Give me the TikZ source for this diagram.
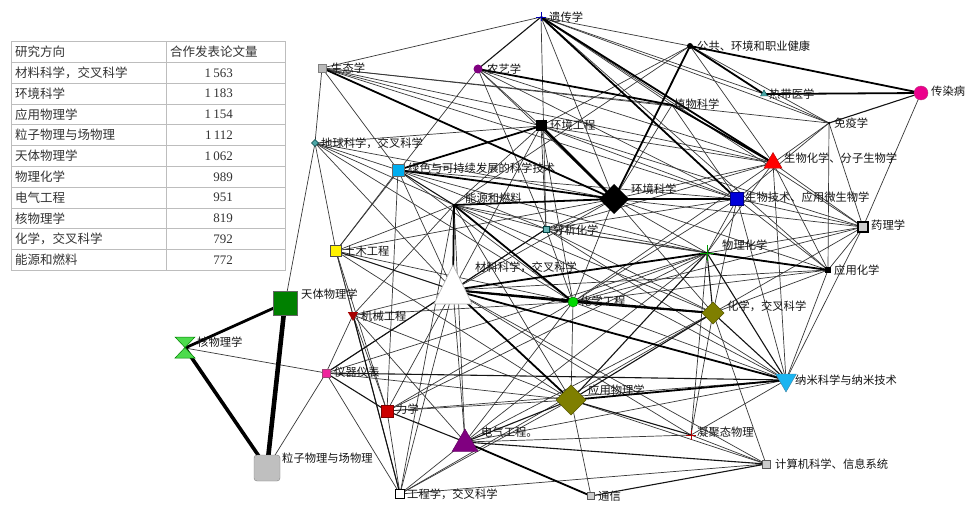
\documentclass[tikz,border=0pt]{standalone}
\usepackage{fontspec}
\setmainfont{Noto Sans CJK SC}
\newfontfamily\numfont{Liberation Serif}
\usetikzlibrary{shapes.geometric}
\definecolor{olivec}{HTML}{7F7F00}
\definecolor{purplec}{HTML}{800080}
\definecolor{tablegray}{HTML}{BDBDBD}
\begin{document}
\begin{tikzpicture}[x=1pt,y=-1pt,
  e0/.style={line width=0.7pt, draw=black!78},
  e1/.style={line width=1.1pt, draw=black!92},
  e2/.style={line width=1.8pt, draw=black},
  e3/.style={line width=2.8pt, draw=black},
  e4/.style={line width=4.6pt, draw=black},
  lbl/.style={anchor=west, inner sep=0pt, text=black!92, font=\fontsize{11.3}{12}\selectfont},
  tcell/.style={anchor=west, inner sep=0pt, text=black!80, font=\fontsize{12.5}{13}\selectfont},
  tnum/.style={anchor=east, inner sep=0pt, text=black!80, font=\numfont\fontsize{13}{14}\selectfont},
  mk/.style={inner sep=0pt, outer sep=0pt},
  sqm/.style={mk, rectangle, minimum size=#1},
  circm/.style={mk, circle, minimum size=#1},
  diam/.style={mk, diamond, minimum width=#1, minimum height=#1},
  trim/.style={mk, regular polygon, regular polygon sides=3, minimum size=#1},
  itrim/.style={mk, regular polygon, regular polygon sides=3, shape border rotate=180, minimum size=#1}]
\useasboundingbox (0,0) rectangle (967,505);
\fill[white] (0,0) rectangle (967,505);

% ---------- table ----------
\draw[tablegray, line width=0.9pt] (11,41.7) rectangle (285,270.7);
\draw[tablegray, line width=0.9pt] (166,41.7) -- (166,270.7);
\foreach \yy in {62.5,83.3,104.1,124.9,145.7,166.5,187.3,208.1,228.9,249.7}
  \draw[tablegray, line width=0.9pt] (11,\yy) -- (285,\yy);
\node[tcell] (th1) at (15,52) {研究方向};
\node[tcell] (th2) at (170,52) {合作发表论文量};
\foreach \i/\t/\n in {1/{材料科学，交叉科学}/{1\,563},2/环境科学/{1\,183},3/应用物理学/{1\,154},
  4/粒子物理与场物理/{1\,112},5/天体物理学/{1\,062},6/物理化学/989,7/电气工程/951,
  8/核物理学/819,9/{化学，交叉科学}/792,10/能源和燃料/772}{
  \node[tcell] (tr\i a) at (15,{52+20.8*\i}) {\t};
  \node[tnum] (tr\i b) at (233,{52+20.8*\i}) {\n};
}

% ---------- node centres ----------
\coordinate (gen) at (541,17);
\coordinate (pub) at (690,46);
\coordinate (eco) at (322,68);
\coordinate (agr) at (478,69);
\coordinate (tro) at (764,94);
\coordinate (inf) at (921,93);
\coordinate (pla) at (672,105);
\coordinate (imm) at (829,123);
\coordinate (enE) at (541,126);
\coordinate (geo) at (315,143);
\coordinate (bio) at (773,163);
\coordinate (grn) at (398,170);
\coordinate (env) at (614,199);
\coordinate (btk) at (737,199);
\coordinate (ene) at (454,205);
\coordinate (pha) at (863,227);
\coordinate (ana) at (546,229);
\coordinate (civ) at (336,251);
\coordinate (phc) at (707,253);
\coordinate (apc) at (828,270);
\coordinate (mat) at (453,290);
\coordinate (ast) at (285,303);
\coordinate (che) at (573,302);
\coordinate (chx) at (713,313);
\coordinate (mec) at (353,315);
\coordinate (nuc) at (185,348);
\coordinate (ins) at (326,373);
\coordinate (nan) at (786,380);
\coordinate (app) at (571,400);
\coordinate (mch) at (387,411);
\coordinate (cnd) at (691,435);
\coordinate (ele) at (465,442);
\coordinate (par) at (267,468);
\coordinate (com) at (766,464);
\coordinate (eng) at (400,494);
\coordinate (tel) at (591,496);

% ---------- connectors ----------
\foreach \a/\b in {gen/eco, gen/ana, gen/env, gen/pha, gen/imm, gen/pub, gen/tro, gen/pla, gen/apc,
  pub/imm, pub/bio, pub/enE, pub/ene,
  agr/civ, agr/bio, agr/btk, agr/env, agr/ana, agr/enE,
  eco/geo, eco/bio, eco/btk, eco/enE, eco/grn, eco/pla, eco/imm,
  tro/imm, inf/pha, pla/btk, pla/env,
  imm/bio, imm/apc, imm/pha, imm/btk,
  enE/ene, enE/ana, enE/mat, enE/che, enE/btk, enE/pha, enE/bio, geo/enE,
  geo/ast, geo/grn, geo/env, geo/civ, geo/ene, geo/mat, geo/che,
  bio/phc, bio/pha, bio/apc, bio/ana, bio/che, bio/env, bio/nan,
  grn/mat, grn/civ, grn/ana, grn/che, grn/btk, grn/mch, grn/phc,
  env/phc, env/che, env/ana, env/mat, env/apc, env/pha, env/chx, env/civ,
  btk/pha, btk/phc, btk/apc, btk/che, btk/ana, btk/chx, btk/nan,
  ene/ana, ene/phc, ene/chx, ene/app, ene/ele, ene/mec, ene/civ, ene/eng, ene/nan,
  pha/apc, pha/nan, pha/chx, pha/phc, pha/che,
  ana/mat, ana/che, ana/phc, ana/chx, ana/apc, ana/nan,
  civ/mec, civ/mch, civ/eng, civ/che, civ/app,
  phc/che, phc/ele, phc/mch, phc/cnd, phc/ins,
  apc/chx, apc/nan, apc/mat, apc/che,
  mat/ele, mat/mch, mat/mec, mat/eng, mat/cnd, mat/ins, mat/com,
  che/app, che/nan, che/mch, che/ele,
  chx/ele, chx/cnd, chx/com, nan/cnd, nan/ele,
  app/tel, app/mch, app/ins, app/com, app/eng,
  ele/cnd, ele/eng, ele/mec,
  mec/ins, mec/mch, mec/app, mec/che,
  ins/nuc, ins/par, ins/eng,
  mch/eng, mch/nan, com/cnd, com/eng, eng/chx}
  \draw[e0] (\a) -- (\b);
\foreach \a/\b in {gen/agr, inf/imm, ana/ins, civ/mat, phc/chx, chx/app, chx/nan, app/cnd,
  app/ele, ele/com, ele/mch, mec/eng, ins/mch, com/tel, ins/nan, grn/ene, phc/nan, phc/app}
  \draw[e1] (\a) -- (\b);
\foreach \a/\b in {gen/bio, gen/btk, pub/inf, pub/tro, pub/env, tro/inf, agr/pla, pla/bio,
  enE/grn, eco/env, grn/env, env/btk, env/ene, ene/mat, ene/che, phc/apc, phc/mat,
  mat/app, mat/che, mat/chx, mat/nan, che/chx, nan/app, ele/tel}
  \draw[e2] (\a) -- (\b);
\draw[e3] (enE) -- (env);
\draw[e3] (nuc) -- (ast);
\draw[line width=3.6pt] (nuc) -- (par);
\draw[e4] (ast) -- (par);

% ---------- markers ----------
\draw[blue!70!black, line width=0.9pt] (536,17) -- (546,17) (541,12) -- (541,21);
\node[circm=6pt, fill=black] (pub-m) at (pub) {};
\node[sqm=8pt, fill=gray!55, draw=gray] (eco-m) at (eco) {};
\node[circm=9pt, fill=purplec] (agr-m) at (agr) {};
\node[trim=8pt, fill=teal!70, draw=teal!60!black] (tro-m) at (tro) {};
\node[circm=14pt, fill=magenta, draw=magenta!70!black] (inf-m) at (inf) {};
\node[circm=2pt, fill=black] (pla-m) at (pla) {};
\node[circm=2.5pt, fill=black] (imm-m) at (imm) {};
\node[sqm=11pt, fill=black] (enE-m) at (enE) {};
\node[diam=7pt, fill=teal!70, draw=teal!50!black] (geo-m) at (geo) {};
\node[trim=21pt, fill=red, draw=red!70!black] (bio-m) at (bio) {};
\node[sqm=12pt, fill=cyan, draw=black!60] (grn-m) at (grn) {};
\node[diam=30pt, fill=black] (env-m) at (env) {};
\node[sqm=13pt, fill=blue!85!black, draw=blue!50!black] (btk-m) at (btk) {};
\node[circm=2.5pt, fill=black] (ene-m) at (ene) {};
\node[sqm=10pt, fill=gray!40, draw=black, line width=1.4pt] (pha-m) at (pha) {};
\node[sqm=6pt, fill=teal!60, draw=teal!50!black] (ana-m) at (ana) {};
\node[sqm=11pt, fill=yellow, draw=black!70] (civ-m) at (civ) {};
\draw[green!60!black, line width=0.8pt] (700,253) -- (714,253) (707,245) -- (707,261);
\node[sqm=6pt, fill=black] (apc-m) at (apc) {};
\path[fill=white, draw=gray!60, line width=0.6pt] (453,265) -- (472,304) -- (434,304) -- cycle;
\node[sqm=24pt, fill=green!50!black, draw=black!60] (ast-m) at (ast) {};
\node[circm=10pt, fill=green!85!black, draw=green!45!black] (che-m) at (che) {};
\node[diam=22pt, fill=olivec, draw=olivec!70!black] (chx-m) at (chx) {};
\node[itrim=12pt, fill=red!65!black] (mec-m) at (mec) {};
\path[fill=green!80!black!70!white, draw=green!50!black, line width=0.5pt]
  (175,337) -- (195,337) -- (175,358) -- (195,358) -- cycle;
\node[sqm=8pt, fill=magenta!85!white, draw=magenta!60!black] (ins-m) at (ins) {};
\node[itrim=24pt, fill=cyan!90!white, draw=cyan!60!black] (nan-m) at (nan) {};
\node[diam=30pt, fill=olivec, draw=olivec!70!black] (app-m) at (app) {};
\node[sqm=12pt, fill=red!80!black, draw=red!50!black] (mch-m) at (mch) {};
\draw[red!70!black, line width=0.7pt] (686,435) -- (696,435) (691,430) -- (691,440);
\node[trim=30pt, fill=purplec, draw=purplec!70!black] (ele-m) at (465,444) {};
\node[sqm=26pt, fill=gray!50, draw=gray, rounded corners=3pt] (par-m) at (par) {};
\node[sqm=8pt, fill=gray!40, draw=gray!70!black] (com-m) at (com) {};
\node[sqm=9pt, fill=white, draw=black, line width=1.6pt] (eng-m) at (eng) {};
\node[sqm=7pt, fill=gray!40, draw=gray!70!black] (tel-m) at (tel) {};

% ---------- labels ----------
\node[lbl] (gen-l) at (549,17) {遗传学};
\node[lbl] (pub-l) at (697,46) {公共、环境和职业健康};
\node[lbl] (eco-l) at (331,68) {生态学};
\node[lbl] (agr-l) at (487,69) {农艺学};
\node[lbl] (tro-l) at (769,94) {热带医学};
\node[lbl] (inf-l) at (931,91) {传染病};
\node[lbl] (pla-l) at (674,104) {植物科学};
\node[lbl] (imm-l) at (834,123) {免疫学};
\node[lbl] (enE-l) at (550,125) {环境工程};
\node[lbl] (geo-l) at (321,143) {地球科学，交叉科学};
\node[lbl] (bio-l) at (784,158) {生物化学、分子生物学};
\node[lbl] (grn-l) at (408,168) {绿色与可持续发展的科学技术};
\node[lbl] (env-l) at (631,189) {环境科学};
\node[lbl] (btk-l) at (745,197) {生物技术、应用微生物学};
\node[lbl] (ene-l) at (465,198) {能源和燃料};
\node[lbl] (pha-l) at (871,225) {药理学};
\node[lbl] (ana-l) at (553,230) {分析化学};
\node[lbl] (civ-l) at (344,251) {土木工程};
\node[lbl] (phc-l) at (722,245) {物理化学};
\node[lbl] (apc-l) at (834,270) {应用化学};
\node[lbl] (mat-l) at (475,267) {材料科学，交叉科学};
\node[lbl] (ast-l) at (301,294) {天体物理学};
\node[lbl] (che-l) at (580,301) {化学工程};
\node[lbl] (chx-l) at (727,306) {化学，交叉科学};
\node[lbl] (mec-l) at (361,316) {机械工程};
\node[lbl] (nuc-l) at (197,342) {核物理学};
\node[lbl] (ins-l) at (334,372) {仪器仪表};
\node[lbl] (nan-l) at (795,380) {纳米科学与纳米技术};
\node[lbl] (app-l) at (588,390) {应用物理学};
\node[lbl] (mch-l) at (396,409) {力学};
\node[lbl] (ele-l) at (481,432) {电气工程。};
\node[lbl] (cnd-l) at (697,432) {凝聚态物理};
\node[lbl] (par-l) at (282,458) {粒子物理与场物理};
\node[lbl] (com-l) at (775,464) {计算机科学、信息系统};
\node[lbl] (eng-l) at (407,494) {工程学，交叉科学};
\node[lbl] (tel-l) at (598,496) {通信};
\end{tikzpicture}
\end{document}
